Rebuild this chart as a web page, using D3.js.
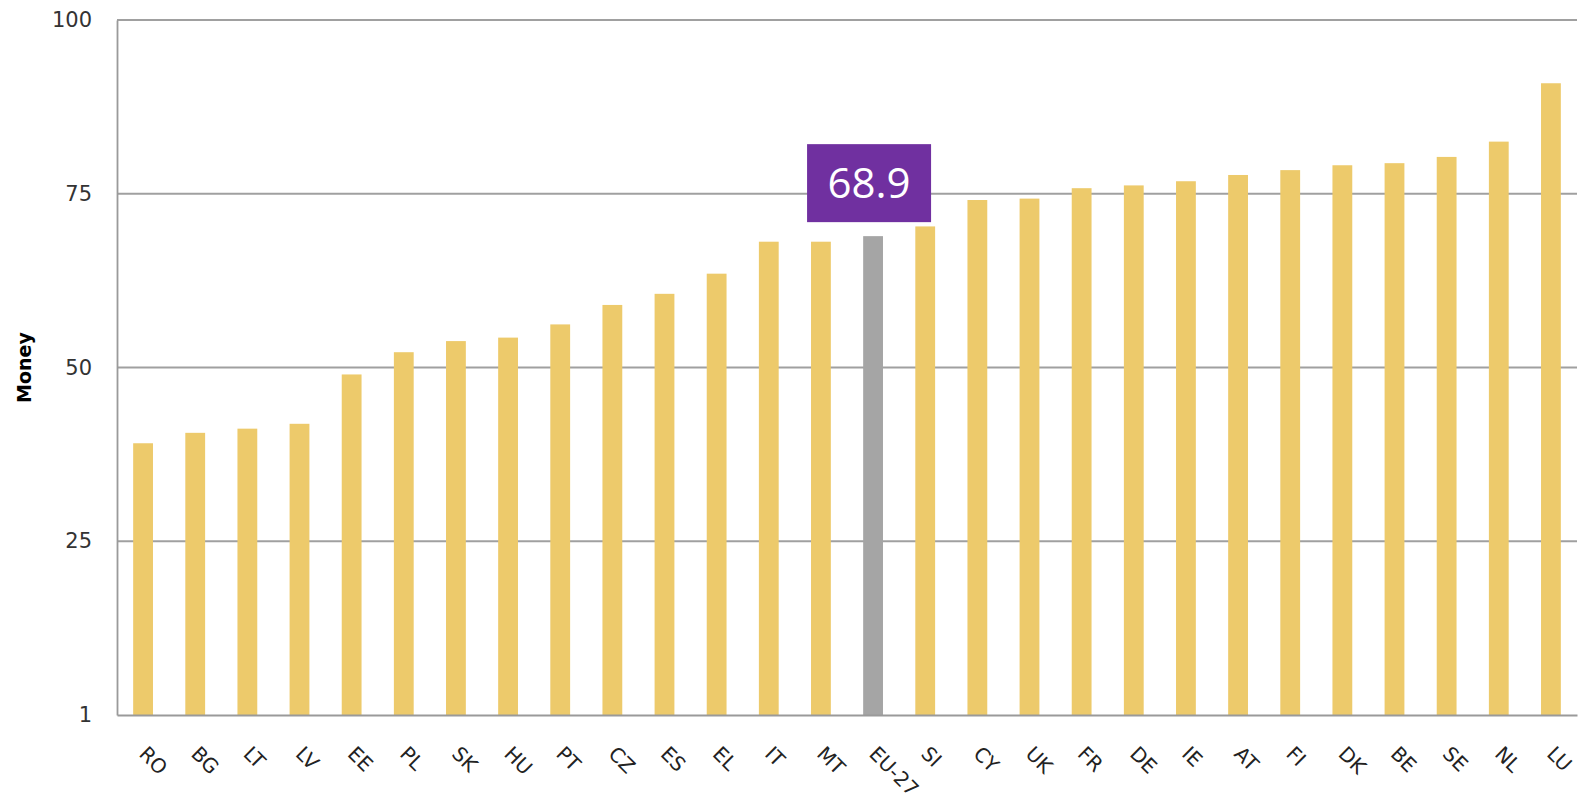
<!DOCTYPE html>
<html>
<head>
<meta charset="utf-8">
<script src="https://cdn.jsdelivr.net/npm/d3@7"></script>
<style>
  body { margin: 0; background: #fff; }
  svg { display: block; }
</style>
</head>
<body>
<script>
const width = 1580
const height = 803
const margin = ({top: 20, right: 3, bottom: 88, left: 117})

const countries = ["RO", "BG", "LT", "LV", "EE", "PL", "SK", "HU", "PT", "CZ", "ES", "EL", "IT", "MT",
  "EU-27", "SI", "CY", "UK", "FR", "DE", "IE", "AT", "FI", "DK", "BE", "SE", "NL", "LU"]
const values = [39.1, 40.6, 41.2, 41.9, 49.0, 52.2, 53.8, 54.3, 56.2, 59.0, 60.6, 63.5, 68.1, 68.1,
  68.9, 70.3, 74.1, 74.3, 75.8, 76.2, 76.8, 77.7, 78.4, 79.1, 79.4, 80.3, 82.5, 90.9]
const tickValues = [0, 25, 50, 75, 100]
const tickLabels = ["1", "25", "50", "75", "100"]
const highlight = "EU-27"
const highlightLabel = "68.9"

const data = countries.map((c, i) => ({name: c, value: values[i]}))

const x = d3.scaleBand()
    .domain(countries)
    .range([margin.left, width - margin.right])
    .paddingInner(0.62)
    .paddingOuter(0.31)

const y = d3.scaleLinear()
    .domain([0, 100])
    .range([height - margin.bottom, margin.top])

const svg = d3.select("body").append("svg")
    .attr("width", width)
    .attr("height", height)

// gridlines
svg.append("g")
    .selectAll("line")
    .data(tickValues.slice(1))
    .join("line")
      .attr("x1", margin.left)
      .attr("x2", width - margin.right)
      .attr("y1", d => y(d))
      .attr("y2", d => y(d))
      .attr("stroke", "#a0a0a0")
      .attr("stroke-width", 1.8)

// bars
svg.append("g")
    .selectAll("rect")
    .data(data)
    .join("rect")
      .attr("x", d => x(d.name))
      .attr("width", x.bandwidth())
      .attr("y", d => y(d.value))
      .attr("height", d => y(0) - y(d.value))
      .attr("fill", d => d.name === highlight ? "#a5a5a5" : "#edca6b")

// y axis
const yAxis = g => g
    .attr("transform", `translate(${margin.left},0)`)
    .call(d3.axisLeft(y).tickValues(tickValues).tickFormat((d, i) => tickLabels[i]).tickSize(0).tickPadding(25))
    .call(g => g.select(".domain").attr("stroke", "#9a9a9a").attr("stroke-width", 1.8))
    .call(g => g.selectAll("text")
        .attr("font-family", "DejaVu Sans, Verdana, sans-serif")
        .attr("font-size", 21)
        .attr("fill", "#333"))

// x axis
const xAxis = g => g
    .attr("transform", `translate(0,${height - margin.bottom})`)
    .call(d3.axisBottom(x).tickSize(0).tickSizeOuter(0))
    .call(g => g.select(".domain").attr("stroke", "#9a9a9a").attr("stroke-width", 1.8))
    .call(g => g.selectAll("text")
        .attr("font-family", "DejaVu Sans, Verdana, sans-serif")
        .attr("font-size", 20)
        .attr("fill", "#222")
        .attr("text-anchor", "start")
        .attr("dy", "0")
        .attr("transform", "translate(-3,38) rotate(45)"))

svg.append("g").call(xAxis)
svg.append("g").call(yAxis)

// y axis title
svg.append("text")
    .attr("transform", `translate(31,${(margin.top + height - margin.bottom) / 2}) rotate(-90)`)
    .attr("text-anchor", "middle")
    .attr("font-family", "DejaVu Sans, Verdana, sans-serif")
    .attr("font-weight", "bold")
    .attr("font-size", 19)
    .attr("fill", "#000")
    .text("Money")

// highlight label box
const hx = x(highlight) + x.bandwidth() / 2 - 4
const hv = values[countries.indexOf(highlight)]
const boxW = 124, boxH = 78
const boxBottom = y(hv) - 14
svg.append("rect")
    .attr("x", hx - boxW / 2)
    .attr("y", boxBottom - boxH)
    .attr("width", boxW)
    .attr("height", boxH)
    .attr("fill", "#7030a0")
svg.append("text")
    .attr("x", hx)
    .attr("y", boxBottom - boxH / 2)
    .attr("dy", "0.36em")
    .attr("text-anchor", "middle")
    .attr("font-family", "Open Sans, Noto Sans, sans-serif")
    .attr("font-size", 42)
    .attr("fill", "#fff")
    .text(highlightLabel)
</script>
</body>
</html>
